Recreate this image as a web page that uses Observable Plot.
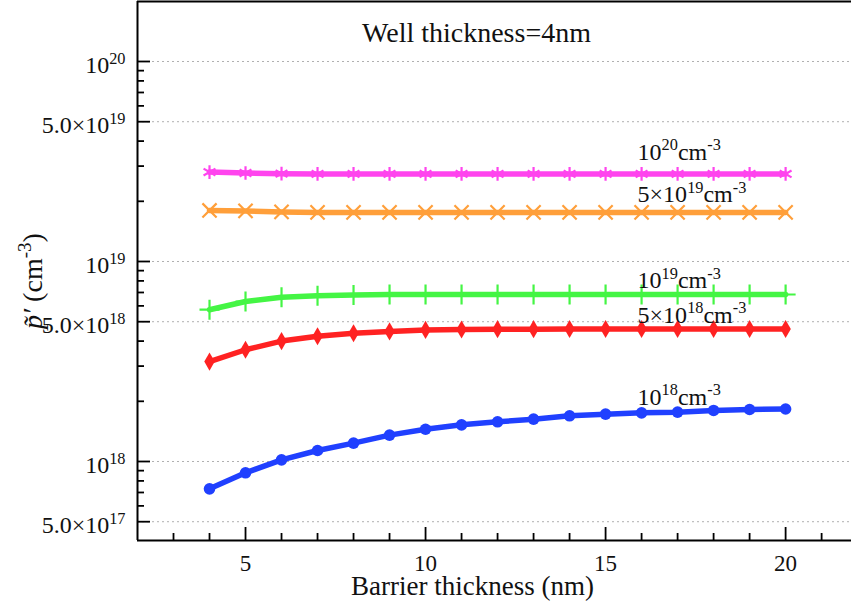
<!DOCTYPE html>
<html><head><meta charset="utf-8">
<script src="https://cdn.jsdelivr.net/npm/d3@7"></script>
<script src="https://cdn.jsdelivr.net/npm/@observablehq/plot@0.6"></script>
<style>
body{margin:0;background:#fff}
svg{font-family:"Liberation Serif","Times New Roman",serif}
</style>
</head><body><div id="chart"></div>
<script>
// ---------------- data ----------------
const barrier = [4,5,6,7,8,9,10,11,12,13,14,15,16,17,18,19,20];
const seriesKeys = ["1e20","5e19","1e19","5e18","1e18"];
const seriesLabels = ["10^{20}cm^{-3}","5×10^{19}cm^{-3}","10^{19}cm^{-3}","5×10^{18}cm^{-3}","10^{18}cm^{-3}"];
const p1e20 = [2.80e19,2.77e19,2.75e19,2.74e19,2.74e19,2.74e19,2.74e19,2.74e19,2.74e19,2.74e19,2.74e19,2.74e19,2.74e19,2.74e19,2.74e19,2.74e19,2.74e19];
const p5e19 = [1.80e19,1.79e19,1.77e19,1.76e19,1.76e19,1.76e19,1.76e19,1.76e19,1.76e19,1.76e19,1.76e19,1.76e19,1.76e19,1.76e19,1.76e19,1.76e19,1.76e19];
const p1e19 = [5.74e18,6.31e18,6.63e18,6.74e18,6.80e18,6.84e18,6.84e18,6.84e18,6.84e18,6.84e18,6.84e18,6.84e18,6.84e18,6.84e18,6.84e18,6.84e18,6.84e18];
const p5e18 = [3.16e18,3.62e18,4.00e18,4.23e18,4.38e18,4.47e18,4.55e18,4.57e18,4.59e18,4.59e18,4.60e18,4.60e18,4.60e18,4.60e18,4.60e18,4.60e18,4.60e18];
const p1e18 = [7.30e17,8.78e17,1.019e18,1.135e18,1.235e18,1.355e18,1.45e18,1.525e18,1.579e18,1.628e18,1.692e18,1.725e18,1.751e18,1.765e18,1.80e18,1.82e18,1.83e18];
const seriesValues = [p1e20,p5e19,p1e19,p5e18,p1e18];

const yMajorTicks = [5e17,1e18,5e18,1e19,5e19,1e20];
const yMajorLabels = ["5.0×10^{17}","10^{18}","5.0×10^{18}","10^{19}","5.0×10^{19}","10^{20}"];
const yMinorTicks = [6e17,7e17,8e17,9e17,2e18,3e18,4e18,6e18,7e18,8e18,9e18,2e19,3e19,4e19,6e19,7e19,8e19,9e19];
const xMajorTicks = [5,10,15,20];
const xMinorTicks = [3,4,6,7,8,9,11,12,13,14,16,17,18,19,21];

const titleText = "Well thickness=4nm";
const xTitle = "Barrier thickness (nm)";
const yTitle = "~{p\u0303\u2032} (cm^{-3})";

// ---------------- styles ----------------
const colors = ["#ff44ee","#ff9f3a","#44f544","#ff2222","#2040ff"];
const symbols = ["asterisk","times","plus","diamond","circle"];
const filled = [false,false,false,true,true];
const dotR = [6.5,6.5,6.5,5.5,5.8];
const labelDy = [-14,-10,-6,-6,-8];

const rows = [];
seriesKeys.forEach((k, si) => barrier.forEach((b, i) => rows.push({s: k, x: b, y: seriesValues[si][i]})));
const labelRows = seriesKeys.map((k, si) => ({s: k, label: seriesLabels[si], x: barrier[12], y: seriesValues[si][12]}));
const yLabelMap = new Map(yMajorTicks.map((t, i) => [t, yMajorLabels[i]]));
const blank = () => "";

const xDomain = [2, 21.83];
const yDomain = [Math.pow(10, 17.605), Math.pow(10, 20.3)];

const marks = [
  Plot.gridY(yMajorTicks, {stroke: "#b0b0b0", strokeOpacity: 1, strokeDasharray: "2,3", strokeWidth: 1}),
];
seriesKeys.forEach((k, si) => {
  const d = rows.filter(r => r.s === k);
  marks.push(Plot.line(d, {x: "x", y: "y", stroke: colors[si], strokeWidth: 5.5, curve: "linear"}));
  marks.push(Plot.dot(d, filled[si]
    ? {x: "x", y: "y", fill: colors[si], symbol: symbols[si], r: dotR[si], stroke: "none"}
    : {x: "x", y: "y", stroke: colors[si], symbol: symbols[si], r: dotR[si], strokeWidth: 2.2}));
});
labelRows.forEach((l, si) => {
  marks.push(Plot.text([l], {x: "x", y: "y", text: "label", textAnchor: "start", lineAnchor: "bottom", dx: -4, dy: labelDy[si], fontSize: 24, fill: "#111"}));
});
marks.push(
  Plot.ruleX([xDomain[0]], {stroke: "#000", strokeWidth: 2}),
  Plot.ruleY([yDomain[0]], {stroke: "#000", strokeWidth: 2}),
  Plot.ruleY([yDomain[1]], {stroke: "#000", strokeWidth: 2}),
  Plot.axisY(yMajorTicks, {anchor: "left", tickSize: 13, dx: 13, tickFormat: blank, label: null, strokeWidth: 1.8}),
  Plot.axisY(yMinorTicks, {anchor: "left", tickSize: 7, dx: 7, tickFormat: blank, label: null, strokeWidth: 1.8}),
  Plot.axisY(yMajorTicks, {anchor: "left", tickSize: 0, tickPadding: 12, dy: 4, tickFormat: d => yLabelMap.get(d), label: null, fontSize: 24, fill: "#111"}),
  Plot.axisX(xMajorTicks, {anchor: "bottom", tickSize: 13, dy: -13, tickFormat: blank, label: null, strokeWidth: 1.8}),
  Plot.axisX(xMinorTicks, {anchor: "bottom", tickSize: 7, dy: -7, tickFormat: blank, label: null, strokeWidth: 1.8}),
  Plot.axisX(xMajorTicks, {anchor: "bottom", tickSize: 0, tickPadding: 14, tickFormat: d => String(d), label: null, fontSize: 23, fill: "#111"}),
  Plot.text([titleText], {frameAnchor: "top", dx: -18, dy: 21, fontSize: 28, fill: "#111"}),
  Plot.text([xTitle], {frameAnchor: "bottom", dx: -22, dy: 54, fontSize: 27, fill: "#111"}),
  Plot.text([yTitle], {frameAnchor: "left", rotate: -90, dx: -104, dy: 58, fontSize: 28, fill: "#111"})
);

const chart = Plot.plot({
  width: 851, height: 609,
  marginLeft: 137, marginRight: 0, marginTop: 1, marginBottom: 69,
  x: {domain: xDomain},
  y: {type: "log", domain: yDomain},
  style: {fontFamily: '"Liberation Serif","Times New Roman",serif', background: "#fff", overflow: "visible"},
  marks
});
document.getElementById("chart").appendChild(chart);

// rich text: ^{..} superscript, ~{..} italic
const NS = "http://www.w3.org/2000/svg";
chart.querySelectorAll("text").forEach(t => {
  const s = t.textContent;
  if (!/[\^~]\{/.test(s)) return;
  const fs = parseFloat(getComputedStyle(t).fontSize) || 16;
  while (t.firstChild) t.removeChild(t.firstChild);
  const re = /([\^~])\{([^}]*)\}/g;
  let last = 0, m, raised = false;
  const add = (txt, attrs) => {
    const ts = document.createElementNS(NS, "tspan");
    ts.textContent = txt;
    for (const k in attrs) ts.setAttribute(k, attrs[k]);
    t.appendChild(ts);
  };
  const addPlain = (txt, extra = {}) => {
    if (!txt) return;
    if (raised) { add(txt, {dy: (0.4 * fs) + "px", ...extra}); raised = false; }
    else add(txt, extra);
  };
  while ((m = re.exec(s))) {
    addPlain(s.slice(last, m.index));
    if (m[1] === "^") {
      add(m[2], {dy: (raised ? 0 : -0.4 * fs) + "px", "font-size": (0.68 * fs) + "px"});
      raised = true;
    } else {
      addPlain(m[2], {"font-style": "italic"});
    }
    last = re.lastIndex;
  }
  addPlain(s.slice(last));
});
</script>
</body></html>
